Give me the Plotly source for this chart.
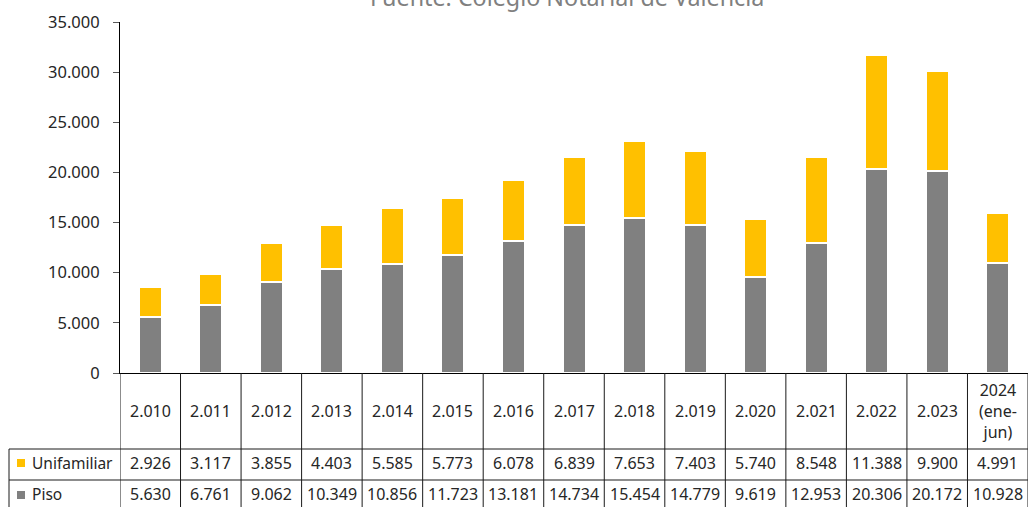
import plotly.graph_objects as go

# ---- data ----
categories = ["2.010", "2.011", "2.012", "2.013", "2.014", "2.015", "2.016", "2.017",
              "2.018", "2.019", "2.020", "2.021", "2.022", "2.023", "2024<br>(ene-<br>jun)"]
unifamiliar = [2926, 3117, 3855, 4403, 5585, 5773, 6078, 6839, 7653, 7403, 5740, 8548, 11388, 9900, 4991]
piso = [5630, 6761, 9062, 10349, 10856, 11723, 13181, 14734, 15454, 14779, 9619, 12953, 20306, 20172, 10928]
series_names = ["Unifamiliar", "Piso"]
title_text = "Fuente: Colegio Notarial de Valencia"

GRAY = "#808080"
YELLOW = "#FFC000"
FONT = "Noto Sans"
TXT = "#262626"

W, H = 1029, 507
ML, MR, MT, MB = 120, 1, 22, 134
plot_h = H - MT - MB
plot_w = W - ML - MR


def py(p):
    """pixel row -> paper y"""
    return (H - MB - p) / plot_h


def px(p):
    return (p - ML) / plot_w


def fmt(v):
    return f"{v:,}".replace(",", ".")


idx = list(range(len(categories)))

fig = go.Figure()
fig.add_trace(go.Bar(x=idx, y=piso, name=series_names[1],
                     marker=dict(color=GRAY, line=dict(color="white", width=2))))
fig.add_trace(go.Bar(x=idx, y=unifamiliar, name=series_names[0],
                     marker=dict(color=YELLOW, line=dict(color="white", width=2))))

shapes = []
annotations = []
n = len(categories)

# column lines of the table
for i in range(n + 1):
    shapes.append(dict(type="line", xref="x", yref="paper", x0=i - 0.5, x1=i - 0.5,
                       y0=0, y1=py(H + 5), line=dict(color="#1a1a1a", width=1)))
# row lines
for p in [449, 480]:
    shapes.append(dict(type="line", xref="paper", yref="paper", x0=px(9), x1=1,
                       y0=py(p), y1=py(p), line=dict(color="#1a1a1a", width=1)))
# left border of label column
shapes.append(dict(type="line", xref="paper", yref="paper", x0=px(9), x1=px(9),
                   y0=py(449), y1=py(H + 5), line=dict(color="#1a1a1a", width=1)))
# legend squares
for color, (t, b) in [(YELLOW, (459, 467)), (GRAY, (491, 499))]:
    shapes.append(dict(type="rect", xref="paper", yref="paper", x0=px(17), x1=px(25),
                       y0=py(b), y1=py(t), fillcolor=color, line=dict(width=0)))

# row labels
for name, p in [(series_names[0], 463), (series_names[1], 494)]:
    annotations.append(dict(text=name, xref="paper", yref="paper", x=px(30), y=py(p),
                            xanchor="left", yanchor="middle", showarrow=False,
                            font=dict(family=FONT, size=15.5, color=TXT)))

# header + values
for i, c in enumerate(categories):
    annotations.append(dict(text=c, xref="x", yref="paper", x=i, y=py(411),
                            xanchor="center", yanchor="middle", showarrow=False,
                            font=dict(family=FONT, size=16, color=TXT)))
    annotations.append(dict(text=fmt(unifamiliar[i]), xref="x", yref="paper", x=i, y=py(463),
                            xanchor="center", yanchor="middle", showarrow=False,
                            font=dict(family=FONT, size=16, color=TXT)))
    annotations.append(dict(text=fmt(piso[i]), xref="x", yref="paper", x=i, y=py(494),
                            xanchor="center", yanchor="middle", showarrow=False,
                            font=dict(family=FONT, size=16, color=TXT)))

# title (partly cut by the top edge)
annotations.append(dict(text=title_text, xref="paper", yref="paper", x=px(567), y=py(-3),
                        xanchor="center", yanchor="middle", showarrow=False,
                        font=dict(family=FONT, size=23.3, color="#808080")))

fig.update_layout(
    width=W, height=H,
    margin=dict(l=ML, r=MR, t=MT, b=MB, autoexpand=False),
    barmode="stack",
    bargap=0.62,
    showlegend=False,
    plot_bgcolor="white",
    paper_bgcolor="white",
    separators=",.",
    font=dict(family=FONT, size=16.5, color=TXT),
    shapes=shapes,
    annotations=annotations,
)
fig.update_xaxes(type="linear", showticklabels=False, showgrid=False, showline=True,
                 linecolor="black", linewidth=1, ticks="", range=[-0.5, n - 0.5],
                 zeroline=False, fixedrange=True)
fig.update_yaxes(range=[0, 35000], dtick=5000, tickformat=",d", showgrid=False,
                 showline=True, linecolor="black", linewidth=1, ticks="outside",
                 ticklen=6, tickcolor="#595959", ticklabelstandoff=10,
                 zeroline=False, tickfont=dict(family=FONT, size=16.5, color=TXT))

fig.write_html("out.html", config={"displayModeBar": False},
               post_script="document.body.style.margin='0';document.body.style.padding='0';")
